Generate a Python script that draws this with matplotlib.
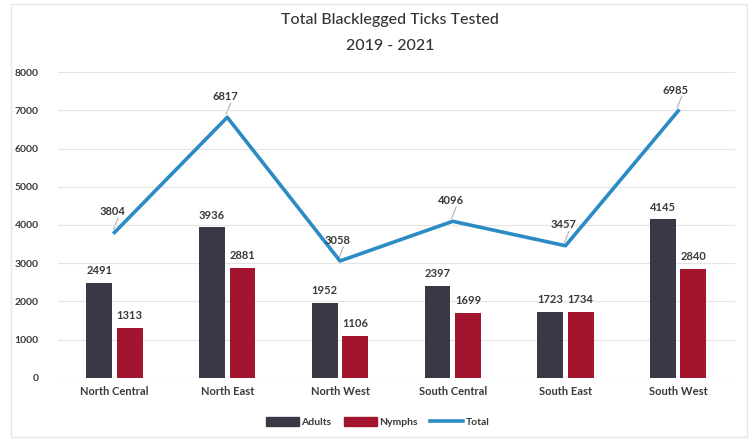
import numpy as np
import matplotlib.pyplot as plt
from matplotlib.patches import Rectangle, Patch
from matplotlib.lines import Line2D

plt.rcParams['font.family'] = ['Lato', 'DejaVu Sans']

regions = ['North Central', 'North East', 'North West', 'South Central', 'South East', 'South West']
adults = [2491, 3936, 1952, 2397, 1723, 4145]
nymphs = [1313, 2881, 1106, 1699, 1734, 2840]
total = [3804, 6817, 3058, 4096, 3457, 6985]

c_adult = '#3a3846'
c_nymph = '#a3152f'
c_total = '#2b8bc4'
c_text = '#3a3a3a'

fig = plt.figure(figsize=(7.55, 4.42), dpi=100)
ax = fig.add_axes([0.077, 0.145, 0.896, 0.692])

x = np.arange(len(regions))
w = 0.23

b1 = ax.bar(x - 0.135, adults, w, color=c_adult, zorder=2)
b2 = ax.bar(x + 0.135, nymphs, w, color=c_nymph, zorder=2)
ax.plot(x, total, color=c_total, lw=2.6, zorder=3)

for b, v in zip(b1, adults):
    ax.text(b.get_x() + b.get_width() / 2, v + 180, str(v), ha='center', va='bottom',
            fontsize=8, fontweight='bold', color=c_text)
for b, v in zip(b2, nymphs):
    ax.text(b.get_x() + b.get_width() / 2, v + 180, str(v), ha='center', va='bottom',
            fontsize=8, fontweight='bold', color=c_text)
for xi, v in zip(x, total):
    ax.text(xi - 0.02, v + 400, str(v), ha='center', va='bottom',
            fontsize=8, fontweight='bold', color=c_text)
    ax.plot([xi - 0.01, xi + 0.03], [v + 80, v + 370], color='#b0b0b0', lw=0.8, zorder=1)

ax.set_xlim(-0.5, len(regions) - 0.5)
ax.set_ylim(0, 8000)
ax.set_yticks(range(0, 8001, 1000))
ax.set_xticks(x)
ax.set_xticklabels(regions, fontsize=8, fontweight='bold', color=c_text)
ax.tick_params(axis='y', labelsize=7.5, colors=c_text, length=0, pad=14)
ax.tick_params(axis='x', length=0, pad=6)
for lbl in ax.get_yticklabels():
    lbl.set_fontweight('bold')
ax.grid(axis='y', color='#e4e4e4', lw=0.8, zorder=0)
for s in ax.spines.values():
    s.set_visible(False)

fig.text(0.517, 0.955, 'Total Blacklegged Ticks Tested', ha='center', va='center',
         fontsize=11.5, color='#333333', fontweight='medium')
fig.text(0.517, 0.895, '2019 - 2021', ha='center', va='center',
         fontsize=11.5, color='#333333', fontweight='medium')

handles = [Patch(color=c_adult), Patch(color=c_nymph),
           Line2D([0], [0], color=c_total, lw=2.6)]
fig.legend(handles, ['Adults', 'Nymphs', 'Total'], loc='center', bbox_to_anchor=(0.5, 0.045),
           ncol=3, frameon=False, prop={'size': 7.5, 'weight': 'bold'}, handlelength=3.2,
           handleheight=0.9, columnspacing=1.2, handletextpad=0.2, labelcolor=c_text)

fig.patches.append(Rectangle((0.015, 0.012), 0.975, 0.98, transform=fig.transFigure,
                             fill=False, edgecolor='#e6e6e6', lw=1))

fig.savefig('out.png', dpi=100)
